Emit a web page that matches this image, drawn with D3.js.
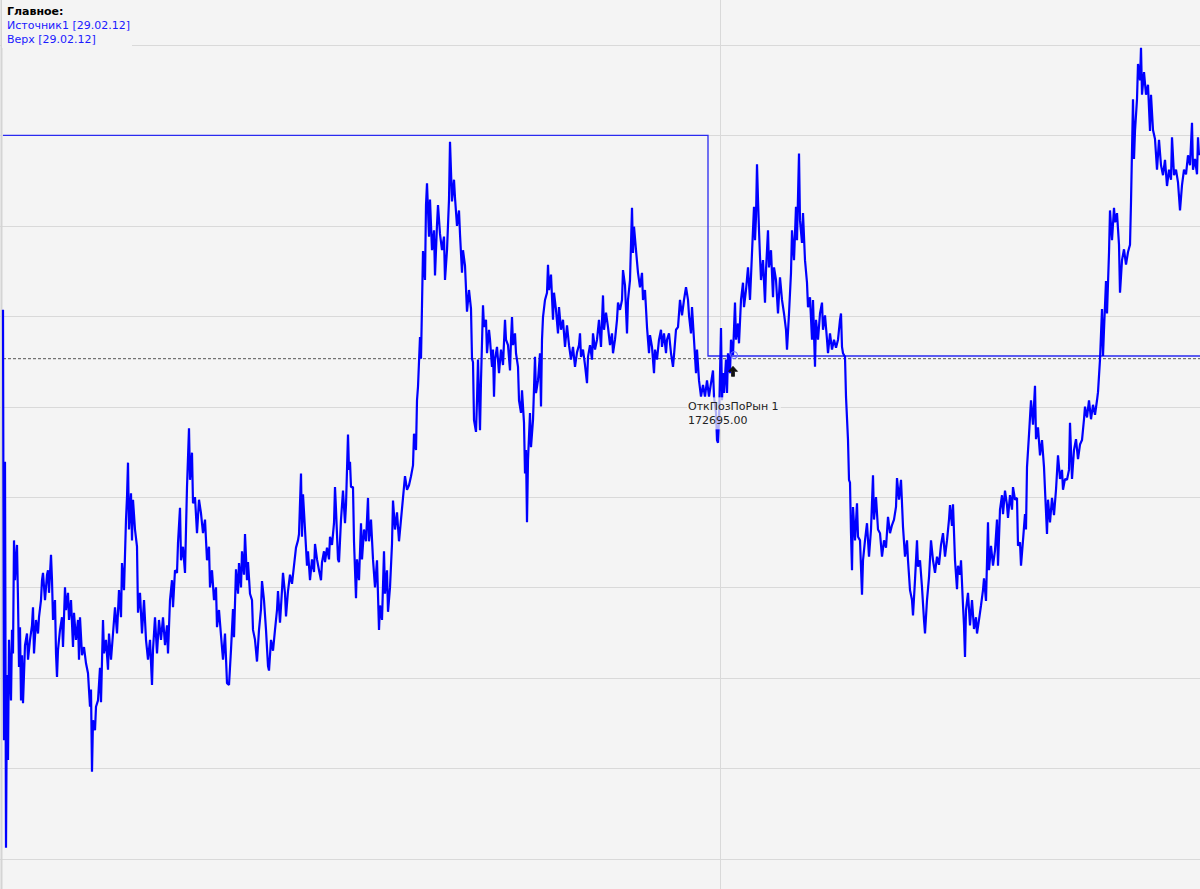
<html>
  <head>
    <meta charset="utf-8">
    <title>Главное</title>
    <script src="https://cdnjs.cloudflare.com/ajax/libs/d3/7.8.5/d3.min.js"></script>
  </head>
  <body>
    <svg id="chart"></svg>

    <style>
      body {
        margin: 0;
        background: #f4f4f4;
        overflow: hidden;
      }
      #chart {
        display: block;
        font-family: 'DejaVu Sans', Verdana, sans-serif;
      }
      .grid line {
        stroke: #d9d9d9;
        stroke-width: 1;
        shape-rendering: crispEdges;
      }
      .legend text {
        font-size: 11px;
      }
      .mark-label {
        font-size: 11px;
        fill: #222;
      }
    </style>

    <script>
      // Источник1, 29.02.12: [номер бара, цена]
      const source1 = [
        [0,173035],[1,170655],[2,172195],[3,170060],[4,171015],[5,170545],[6,171210],[8,170875],[9,171265],[10,171135],
        [11,171760],[12,171540],[13,171650],[14,171735],[15,171430],[16,171060],[17,171280],[18,170875],[19,171125],[20,170860],
        [22,171180],[24,171245],[25,171100],[27,171210],[29,171290],[30,171390],[31,171135],[33,171320],[35,171245],[36,171335],
        [38,171430],[39,171540],[40,171580],[42,171430],[44,171570],[45,171595],[46,171470],[48,171680],[49,171540],[50,171320],
        [52,171430],[53,171135],[54,171005],[55,171155],[57,171265],[59,171335],[60,171170],[62,171500],[63,171375],[65,171470],
        [66,171320],[68,171430],[70,171170],[71,171360],[73,171210],[75,171320],[76,171100],[77,171335],[79,171125],[81,171170],
        [83,171080],[85,171025],[87,170840],[88,170935],[89,170480],[90,170765],[92,170710],[93,170840],[95,170875],[97,171055],
        [98,170865],[100,171320],[101,171135],[103,171210],[105,171045],[106,171245],[108,171100],[110,171245],[112,171390],[114,171245],
        [116,171485],[118,171335],[119,171635],[121,171485],[123,171875],[124,172000],[125,172190],[126,171820],[128,172020],[129,171760],
        [130,171985],[132,171820],[134,171725],[135,171360],[137,171470],[139,171245],[141,171430],[143,171210],[145,171100],[147,171210],
        [149,170960],[150,171155],[152,171335],[154,171135],[156,171320],[158,171210],[160,171335],[162,171180],[164,171290],[165,171135],
        [167,171430],[169,171540],[170,171390],[172,171595],[174,171580],[175,171745],[177,171940],[178,171650],[180,171725],[182,171580],
        [183,171820],[184,172055],[186,172380],[187,172095],[189,172245],[190,171965],[192,172000],[194,171800],[196,171985],[198,171910],
        [200,171800],[202,171875],[204,171650],[206,171725],[207,171500],[209,171595],[211,171430],[213,171500],[214,171280],[216,171375],
        [218,171235],[220,171100],[222,171245],[224,170970],[226,170960],[228,171155],[230,171380],[231,171225],[233,171600],[235,171465],
        [236,171635],[238,171500],[239,171700],[241,171570],[242,171795],[244,171540],[245,171640],[247,171465],[249,171430],[250,171265],
        [252,171210],[254,171090],[256,171265],[258,171380],[259,171535],[261,171430],[263,171265],[265,171065],[266,171040],[268,171210],
        [270,171150],[272,171265],[274,171375],[275,171480],[277,171305],[279,171485],[280,171580],[282,171465],[283,171340],[285,171480],
        [287,171570],[289,171520],[291,171620],[293,171720],[295,171760],[296,171795],[298,172130],[299,171780],[300,172015],[302,171820],
        [304,171620],[305,171700],[307,171540],[309,171655],[311,171585],[312,171740],[314,171655],[316,171595],[318,171540],[319,171640],
        [321,171700],[322,171640],[324,171720],[326,171655],[327,171780],[329,171735],[331,171855],[332,172055],[333,171930],[335,171655],
        [336,171640],[338,171875],[340,172035],[342,171855],[343,171955],[345,172345],[346,172150],[347,172195],[348,172055],[350,172055],
        [351,171755],[353,171440],[354,171655],[356,171540],[358,171855],[359,171655],[361,171820],[363,171755],[365,171995],[366,171755],
        [368,171875],[370,171655],[372,171500],[374,171650],[376,171265],[377,171400],[379,171320],[381,171700],[382,171465],[384,171595],
        [385,171365],[387,171500],[389,171740],[390,171980],[392,171820],[394,171915],[396,171755],[398,171875],[400,171995],[402,172115],
        [404,172040],[406,172065],[408,172115],[410,172175],[411,172350],[413,172260],[414,172535],[415,172610],[417,172885],[418,172765],
        [419,173060],[420,173360],[422,173200],[423,173615],[424,173735],[426,173440],[427,173645],[429,173365],[431,173475],[432,173225],
        [434,173505],[435,173615],[437,173455],[439,173365],[441,173440],[442,173200],[444,173365],[446,173645],[447,173965],[449,173635],
        [451,173755],[452,173655],[454,173500],[456,173585],[457,173455],[459,173240],[460,173365],[462,173280],[464,173025],[466,173145],
        [468,173040],[469,172765],[470,172745],[471,172425],[473,172360],[474,172535],[475,172760],[476,172565],[477,172370],[478,172645],
        [480,173060],[481,172940],[483,172980],[484,172795],[486,172925],[487,172870],[489,172720],[490,172815],[491,172555],[492,172760],
        [494,172830],[496,172685],[498,172815],[500,172730],[502,172980],[503,172870],[505,172840],[507,172700],[508,172870],[509,172995],
        [510,172840],[512,172905],[513,172795],[515,172720],[516,172535],[518,172465],[519,172590],[521,172410],[522,172130],[523,172260],
        [524,171860],[525,172205],[527,172465],[528,172275],[530,172425],[532,172775],[533,172575],[535,172645],[537,172795],[538,172500],
        [539,172870],[540,172995],[542,173090],[544,173130],[545,173285],[546,173145],[548,173230],[550,172980],[551,173130],[553,173035],
        [555,172905],[556,173050],[558,172925],[560,172980],[562,172830],[564,172950],[566,172840],[568,172760],[570,172830],[572,172720],
        [574,172800],[576,172840],[577,172905],[578,172775],[580,172815],[582,172730],[584,172630],[585,172775],[587,172840],[589,172760],
        [590,172905],[592,172815],[594,172870],[596,172980],[598,172830],[600,173115],[601,172925],[603,173020],[605,172940],[607,172840],
        [609,172905],[610,172795],[612,172870],[614,172980],[615,173075],[617,173035],[619,173090],[620,173255],[622,173170],[624,172905],
        [625,173090],[627,173200],[629,173600],[630,173350],[631,173495],[633,173365],[635,173240],[637,173160],[639,173240],[640,173090],
        [642,173145],[644,172940],[646,172795],[647,172895],[649,172830],[651,172685],[652,172815],[654,172760],[656,172870],[658,172925],
        [659,172830],[661,172905],[663,172795],[664,172870],[666,172905],[668,172795],[670,172720],[671,172785],[673,172925],[675,172940],
        [677,173090],[679,173005],[681,173090],[683,173160],[685,173090],[686,173005],[688,172905],[689,173050],[691,172870],[693,172685],
        [694,172815],[696,172645],[698,172555],[700,172620],[702,172555],[704,172645],[706,172555],[708,172630],[710,172700],[711,172555],
        [713,172465],[714,172315],[715,172300],[716,172425],[718,172935],[719,172535],[720,172685],[721,172575],[723,172760],[724,172575],
        [725,172795],[727,172685],[728,172870],[730,172785],[732,173075],[733,172870],[735,172960],[736,172850],[738,173090],[740,173185],
        [741,173050],[743,173145],[745,173270],[747,173090],[749,173350],[751,173605],[752,173420],[753,173550],[754,173840],[755,173645],
        [756,173475],[757,173330],[758,173200],[760,173310],[762,173075],[763,173255],[765,173475],[766,173270],[768,173365],[770,173105],
        [771,173270],[773,173200],[775,173015],[777,173215],[779,173090],[781,173015],[783,172925],[784,172815],[786,173015],[788,173240],
        [789,173475],[791,173310],[793,173605],[794,173420],[796,173900],[797,173530],[799,173405],[800,173570],[802,173310],[804,173185],
        [805,173050],[807,173105],[809,172870],[810,173090],[812,172720],[813,172980],[815,172870],[817,173015],[819,173075],[820,172925],
        [822,173005],[824,172870],[825,172795],[827,172905],[829,172815],[831,172870],[833,172825],[835,172870],[837,172980],[838,173015],
        [839,172830],[840,172795],[842,172775],[843,172555],[845,172315],[846,172095],[847,172080],[848,171800],[849,171595],[850,171945],
        [852,171760],[854,171965],[855,171780],[857,171760],[859,171460],[860,171650],[862,171760],[864,171855],[866,171670],[868,171820],
        [870,172120],[871,171875],[873,172000],[875,171820],[877,171800],[879,171670],[881,171760],[883,171720],[885,171890],[887,171800],
        [889,171845],[891,171875],[893,171945],[894,172105],[896,171985],[898,172095],[900,171835],[902,171670],[904,171760],[905,171650],
        [907,171485],[909,171430],[910,171345],[912,171540],[914,171760],[915,171615],[917,171650],[919,171500],[921,171320],[922,171245],
        [924,171430],[926,171555],[928,171760],[930,171650],[932,171580],[934,171670],[936,171625],[938,171735],[940,171800],[942,171670],
        [944,171760],[946,171875],[947,171955],[949,171840],[950,171960],[952,171650],[954,171490],[955,171620],[957,171570],[958,171650],
        [960,171400],[961,171290],[962,171115],[963,171375],[965,171470],[967,171290],[969,171430],[971,171270],[973,171335],[974,171245],
        [976,171320],[978,171400],[980,171485],[981,171550],[983,171425],[985,171860],[986,171595],[988,171730],[990,171620],[992,171705],
        [994,171875],[995,171620],[997,171930],[999,172010],[1000,171905],[1002,172035],[1004,171955],[1005,171885],[1007,172010],[1009,171930],
        [1010,172055],[1012,171985],[1014,171995],[1015,171730],[1017,171750],[1018,171620],[1020,171760],[1022,171905],[1023,171820],[1024,172165],
        [1026,172345],[1028,172535],[1030,172400],[1032,172615],[1033,172320],[1035,172385],[1037,172230],[1039,172315],[1041,172165],[1042,172040],
        [1044,171795],[1045,171985],[1047,171860],[1049,171995],[1051,171900],[1053,172040],[1055,172230],[1057,172100],[1059,172150],[1060,172040],
        [1062,172100],[1064,172095],[1066,172150],[1067,172410],[1069,172100],[1071,172260],[1073,172320],[1075,172210],[1077,172290],[1079,172315],
        [1081,172430],[1082,172500],[1084,172440],[1086,172535],[1088,172430],[1090,172510],[1092,172455],[1094,172535],[1095,172580],[1097,172760],
        [1099,173040],[1100,172780],[1101,172925],[1103,173195],[1104,173015],[1106,173350],[1107,173585],[1109,173420],[1111,173600],[1112,173520],
        [1114,173570],[1116,173395],[1117,173130],[1119,173310],[1121,173370],[1123,173285],[1125,173355],[1127,173395],[1128,173630],[1130,174200],
        [1131,173870],[1132,174025],[1134,174200],[1135,174395],[1137,174305],[1138,174485],[1139,174225],[1141,174350],[1143,174225],[1145,174280],
        [1147,174025],[1148,174225],[1150,174030],[1152,173980],[1154,173810],[1156,173975],[1158,173835],[1160,173780],[1162,173865],[1164,173720],
        [1166,173810],[1168,173755],[1169,173990],[1171,173780],[1173,173810],[1175,173740],[1177,173585],[1179,173725],[1181,173810],[1183,173785],
        [1185,173890],[1187,173835],[1189,174070],[1190,173810],[1192,173870],[1194,173785],[1195,173990],[1196,173890]
      ];

      // Верх: ступени [номер бара, уровень]
      const upperSteps = [[0, 174000], [705, 174000], [705, 172780], [1197, 172780]];

      // пунктир (уровень позиции) и сделка
      const dashedLevel = 172765;
      const entryBar = 730;
      const entryPrice = 172695;
      const touchPoint = [731, 172785];
      const entryLabel = ['ОткПозПоРын 1', '172695.00'];

      // сетка
      const priceTicks = d3.range(170000, 174501, 500);
      const barMarks = [717];

      const legendTitle = 'Главное:';
      const legendItems = ['Источник1 [29.02.12]', 'Верх [29.02.12]'];

      const width = 1200;
      const height = 889;

      const svg = d3.select('#chart')
        .attr('width', width)
        .attr('height', height);

      svg.append('rect')
        .attr('width', width)
        .attr('height', height)
        .attr('fill', '#f4f4f4');

      const x = d3.scaleLinear().domain([0, 1197]).range([3, 1200]);
      const y = d3.scaleLinear().domain([170000, 174500]).range([858.6, 45]);

      // Grid
      const grid = svg.append('g').attr('class', 'grid');
      grid.selectAll('.h')
        .data(priceTicks)
        .enter().append('line')
        .attr('class', 'h')
        .attr('x1', 0)
        .attr('x2', width)
        .attr('y1', d => Math.round(y(d)) + 0.5)
        .attr('y2', d => Math.round(y(d)) + 0.5);

      grid.selectAll('.v')
        .data(barMarks)
        .enter().append('line')
        .attr('class', 'v')
        .attr('x1', d => Math.round(x(d)) + 0.5)
        .attr('x2', d => Math.round(x(d)) + 0.5)
        .attr('y1', 0)
        .attr('y2', height);

      // left frame
      svg.append('line')
        .attr('x1', 1.5).attr('x2', 1.5)
        .attr('y1', 0).attr('y2', height)
        .style('stroke', '#d4d4d4')
        .style('stroke-width', 2);

      // dashed level
      svg.append('line')
        .attr('x1', x(0))
        .attr('x2', width)
        .attr('y1', y(dashedLevel))
        .attr('y2', y(dashedLevel))
        .style('stroke', '#555')
        .style('stroke-width', 1)
        .style('stroke-dasharray', '3,2');

      // Верх
      const stepLine = d3.line()
        .x(d => x(d[0]))
        .y(d => y(d[1]));

      svg.append('path')
        .datum(upperSteps)
        .attr('d', stepLine)
        .attr('fill', 'none')
        .style('stroke', '#2a2af0')
        .style('stroke-width', 1.3);

      // Источник1
      const priceLine = d3.line()
        .x(d => x(d[0]))
        .y(d => y(d[1]));

      svg.append('path')
        .datum(source1)
        .attr('d', priceLine)
        .attr('fill', 'none')
        .style('stroke', '#0000ff')
        .style('stroke-width', 2.2)
        .style('stroke-linejoin', 'bevel');

      // touch circle
      svg.append('circle')
        .attr('cx', x(touchPoint[0]))
        .attr('cy', y(touchPoint[1]))
        .attr('r', 3.5)
        .attr('fill', 'none')
        .style('stroke', '#6a6aff')
        .style('stroke-width', 1);

      // entry arrow
      const ax = x(entryBar);
      const ay = y(entryPrice);
      svg.append('path')
        .attr('d', `M${ax},${ay - 5} L${ax + 4.5},${ay} L${ax + 1.5},${ay} L${ax + 1.5},${ay + 5} L${ax - 1.5},${ay + 5} L${ax - 1.5},${ay} L${ax - 4.5},${ay} Z`)
        .attr('fill', '#111')
        .style('stroke', '#111')
        .style('stroke-width', 0.8);

      // entry label
      const label = svg.append('g');
      label.append('rect')
        .attr('x', x(entryBar) - 46)
        .attr('y', y(entryPrice) + 26)
        .attr('width', 94)
        .attr('height', 32)
        .attr('fill', '#f4f4f4')
        .attr('fill-opacity', 0.72);

      label.selectAll('text')
        .data(entryLabel)
        .enter().append('text')
        .attr('class', 'mark-label')
        .attr('x', x(entryBar) - 45)
        .attr('y', (d, i) => y(entryPrice) + 39 + i * 14)
        .text(d => d);

      // Legend
      const legend = svg.append('g').attr('class', 'legend');
      legend.append('rect')
        .attr('x', 2)
        .attr('y', 0)
        .attr('width', 130)
        .attr('height', 48)
        .attr('fill', '#f4f4f4');

      legend.append('text')
        .attr('x', 7)
        .attr('y', 15)
        .style('font-weight', 'bold')
        .style('fill', '#000')
        .text(legendTitle);

      legend.selectAll('.item')
        .data(legendItems)
        .enter().append('text')
        .attr('class', 'item')
        .attr('x', 7)
        .attr('y', (d, i) => 29 + i * 14)
        .style('fill', '#1a1aff')
        .text(d => d);
    </script>
  </body>
</html>
